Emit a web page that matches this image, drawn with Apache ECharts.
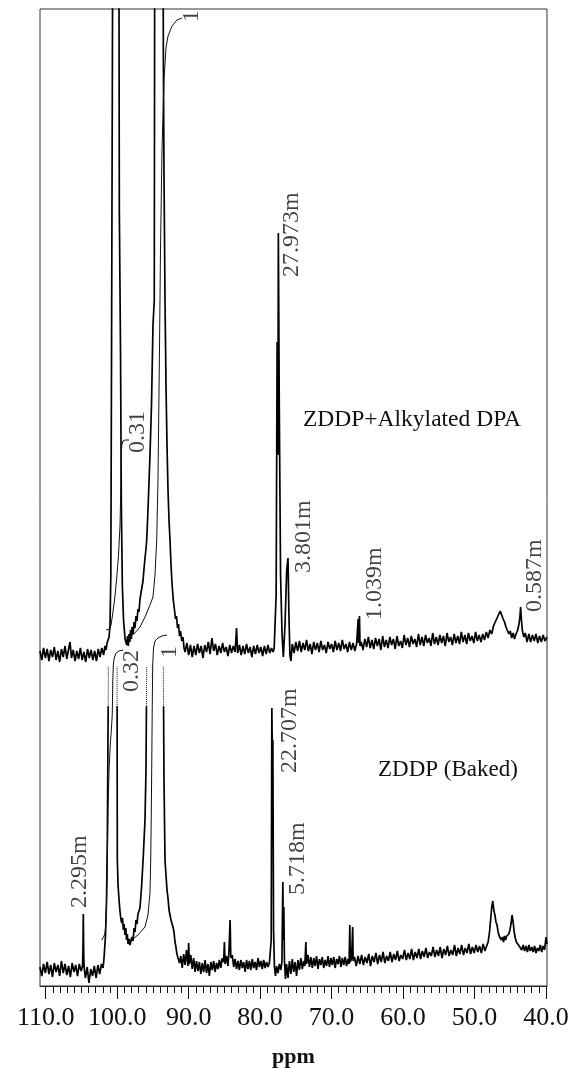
<!DOCTYPE html>
<html>
<head>
<meta charset="utf-8">
<script src="https://cdn.jsdelivr.net/npm/echarts@6/dist/echarts.min.js"></script>
<style>
html,body{margin:0;padding:0;background:#fff;}
#chart{width:574px;height:1068px;}
</style>
</head>
<body>
<div id="chart"></div>
<script>
// ---------- DATA (ppm, intensity in arbitrary units, 0 = each trace's own baseline) ----------
const ppmMin = 39.86;
const ppmMax = 110.8;
const majorTicks = [40, 50, 60, 70, 80, 90, 100, 110];
const minorTicks = [41,42,43,44,45,46,47,48,49,51,52,53,54,55,56,57,58,59,61,62,63,64,65,66,67,68,69,71,72,73,74,75,76,77,78,79,81,82,83,84,85,86,87,88,89,91,92,93,94,95,96,97,98,99,101,102,103,104,105,106,107,108,109];

// Upper trace: ZDDP+Alkylated DPA
const topSpectrum = [
[110.80,4],[110.55,-5],[110.30,7],[110.05,-3],[109.80,6],[109.55,-6],[109.30,5],[109.05,-2],[108.80,8],[108.55,-5],[108.30,4],[108.05,-7],[107.80,6],[107.55,-2],[107.30,9],[107.05,-4],[106.80,6],[106.60,13],[106.40,-3],[106.15,5],[105.90,-6],[105.65,4],[105.40,-4],[105.15,7],[104.90,-5],[104.65,3],[104.40,-7],[104.15,6],[103.90,-3],[103.65,5],[103.40,-5],[103.15,4],[102.90,-6],[102.65,6],[102.40,-2],[102.15,7],[101.90,0],[101.70,9],
[101.56,5],[101.42,12],[101.28,11],[101.14,18],[101.00,30],[100.89,80],[100.79,300],[100.68,567],[100.54,950],[100.16,950],[99.81,950],[99.70,445],[99.53,300],[99.42,150],[99.28,70],[99.11,35],[98.90,16],[98.67,10],
[98.55,19],[98.44,9],[98.34,21],[98.23,13],[98.13,25],[98.02,16],[97.92,28],[97.78,21],[97.64,33],[97.51,27],[97.37,39],[97.23,34],[97.09,46],[96.95,43],[96.81,56],[96.67,56],[96.53,68],[96.39,74],[96.25,86],[96.11,97],[95.97,106],[95.87,115],[95.69,145],[95.41,200],[95.20,250],[94.99,330],[94.81,355],[94.71,950],
[93.66,950],[93.54,600],[93.45,480],[93.31,355],[93.17,270],[93.03,210],[92.89,165],[92.75,135],[92.61,115],[92.47,90],[92.33,72],[92.15,55],[91.98,45],[91.84,36],[91.70,39],[91.56,27],[91.42,31],[91.28,19],[91.14,24],[90.97,14],[90.79,18],[90.65,7],
[90.50,3],[90.25,12],[90.00,0],[89.75,10],[89.50,-2],[89.25,9],[89.00,0],[88.75,11],[88.50,2],[88.25,9],[88.00,-3],[87.75,10],[87.50,3],[87.25,13],[87.00,1],[86.75,17],[86.50,4],[86.25,11],[86.00,0],[85.75,9],[85.50,2],[85.25,12],[85.00,3],[84.75,8],[84.50,-1],[84.25,10],[84.00,2],[83.75,9],[83.50,3],[83.30,27],[83.15,2],[82.90,10],[82.65,0],[82.40,9],[82.15,1],[81.90,11],[81.65,2],[81.40,8],[81.15,-2],[80.90,9],[80.65,1],[80.40,10],[80.15,2],[79.90,8],[79.65,-1],[79.40,9],[79.15,1],[78.90,10],[78.65,2],[78.40,7],[78.20,3],
[78.04,6],[77.76,60],[77.62,313],[77.51,200],[77.45,422],[77.32,250],[77.14,80],[76.93,20],[76.75,-2],[76.52,30],[76.28,85],[76.10,97],[75.97,40],[75.83,0],[75.69,-6],
[75.50,11],[75.25,2],[75.00,13],[74.75,4],[74.50,14],[74.25,3],[74.00,12],[73.75,5],[73.50,15],[73.25,4],[73.00,11],[72.75,1],[72.50,13],[72.25,5],[72.00,12],[71.75,3],[71.50,14],[71.25,5],[71.00,10],[70.75,2],[70.50,13],[70.25,6],[70.00,11],[69.75,3],[69.50,14],[69.25,5],[69.00,12],[68.75,4],[68.50,15],[68.25,6],[68.00,11],[67.75,3],[67.50,13],[67.25,5],[67.00,12],[66.75,4],[66.50,11],
[66.35,9],[66.28,36],[66.22,12],[66.10,39],[66.02,9],[65.85,13],
[65.60,5],[65.35,16],[65.10,8],[64.85,18],[64.60,7],[64.35,15],[64.10,6],[63.85,17],[63.60,9],[63.35,16],[63.10,5],[62.85,19],[62.60,8],[62.35,15],[62.10,7],[61.85,18],[61.60,10],[61.35,16],[61.10,6],[60.85,19],[60.60,9],[60.35,14],[60.10,7],[59.85,20],[59.60,10],[59.35,17],[59.10,8],[58.85,19],[58.60,11],[58.35,16],[58.10,8],[57.85,21],[57.60,10],[57.35,18],[57.10,9],[56.85,20],[56.60,12],[56.35,17],[56.10,9],[55.85,22],[55.60,11],[55.35,18],[55.10,10],[54.85,20],[54.60,12],[54.35,19],[54.10,9],[53.85,22],[53.60,13],[53.35,18],[53.10,10],[52.85,21],[52.60,12],[52.35,19],[52.10,11],[51.85,23],[51.60,13],[51.35,20],[51.10,11],[50.85,22],[50.60,14],[50.35,19],[50.10,12],[49.85,23],[49.60,14],[49.35,20],[49.10,13],[48.85,21],[48.60,15],[48.35,23],[48.10,17],
[47.85,25],[47.60,21],[47.35,29],[47.10,30],[46.85,37],[46.60,39],[46.40,44],[46.20,42],[46.00,36],[45.80,33],[45.60,28],[45.40,27],[45.20,21],[45.00,24],[44.80,17],[44.60,22],[44.40,16],[44.20,21],[44.00,24],[43.80,30],[43.65,38],[43.55,48],[43.45,36],[43.30,24],[43.10,18],[42.90,22],[42.65,13],[42.40,21],[42.15,13],[41.90,20],[41.65,14],[41.40,21],[41.15,12],[40.90,19],[40.65,13],[40.40,20],[40.15,14],[39.86,18]
];

// Upper trace integral curves
const topIntegralA = [[101.56,25],[101.07,26],[100.86,30],[100.65,40],[100.37,55],[100.09,75],[99.81,100],[99.60,130],[99.49,170],[99.44,200],[99.35,210],[99.18,214],[98.90,215],[98.34,215]];
const topIntegralB = [[98.48,18],[97.65,21],[96.81,28],[96.11,38],[95.41,50],[94.99,58],[94.71,80],[94.47,115],[94.29,175],[94.08,305],[93.94,405],[93.73,505],[93.45,575],[93.17,607],[92.89,619],[92.33,629],[91.63,635],[90.93,637]];

// Lower trace: ZDDP (Baked)
const bottomSpectrum = [
[110.80,3],[110.55,-6],[110.30,6],[110.05,-3],[109.80,8],[109.55,-4],[109.30,5],[109.05,-7],[108.80,7],[108.55,-2],[108.30,5],[108.05,-6],[107.80,9],[107.55,-3],[107.30,6],[107.05,-5],[106.80,4],[106.55,-7],[106.30,7],[106.05,-2],[105.80,5],[105.55,-6],[105.30,6],[105.05,-1],[104.85,4],
[104.79,20],[104.74,56],[104.68,14],[104.62,2],
[104.45,-8],[104.20,3],[103.95,-13],[103.70,1],[103.45,-6],[103.20,4],[102.95,-8],[102.70,5],[102.45,-4],[102.20,6],[101.98,2],
[101.84,12],[101.77,20],[101.63,35],[101.49,70],[101.38,130],[101.28,240],[101.21,330],[101.14,450],[100.09,450],[100.02,300],[99.98,110],[99.88,85],[99.74,70],[99.60,58],[99.46,50],[99.37,47],
[99.26,52],[99.14,40],[99.04,46],[98.90,35],[98.79,42],[98.69,30],[98.58,36],[98.48,26],[98.34,31],[98.20,25],[98.06,30],
[97.92,33],[97.78,29],[97.64,42],[97.50,38],[97.37,50],[97.23,46],[97.09,56],[96.95,55],[96.81,62],[96.57,85],[96.34,115],[96.11,150],[95.97,200],[95.87,300],[95.80,450],
[93.62,450],[93.54,300],[93.45,190],[93.31,110],[93.17,95],[93.03,80],[92.89,72],[92.75,60],[92.61,58],[92.47,50],[92.33,49],[92.19,43],[92.05,38],[91.91,28],[91.80,24],[91.67,17],[91.49,12],[91.28,7],
[91.10,14],[90.90,2],[90.70,16],[90.50,5],[90.30,20],[90.10,4],[90.00,27],[89.90,6],[89.70,15],[89.50,1],[89.30,12],[89.10,-2],[88.90,9],[88.70,-1],[88.50,8],[88.30,-4],[88.10,7],[87.90,-2],[87.70,10],[87.50,-3],[87.30,6],[87.10,-6],[86.90,8],[86.70,0],[86.50,9],[86.30,-2],[86.10,7],[85.90,1],[85.70,10],[85.50,2],[85.30,12],[85.10,8],[85.00,28],[84.90,6],[84.70,14],[84.50,4],[84.35,20],[84.20,50],[84.10,12],[83.90,15],[83.70,3],[83.50,11],[83.30,1],[83.10,9],[82.90,0],[82.70,10],[82.50,2],[82.30,8],[82.10,-2],[81.90,10],[81.70,1],[81.50,9],[81.30,0],[81.10,11],[80.90,2],[80.70,8],[80.50,0],[80.30,12],[80.10,3],[79.90,9],[79.70,1],[79.50,10],[79.30,2],[79.10,8],[78.90,3],[78.70,7],[78.55,6],
[78.45,30],[78.36,262],[78.27,200],[78.22,230],[78.12,40],[78.00,3],[77.85,-6],[77.70,4],[77.50,-3],[77.30,6],[77.10,0],
[76.95,8],[76.88,50],[76.82,88],[76.75,30],[76.68,63],[76.60,10],[76.45,-9],
[76.30,6],[76.10,-8],[75.90,9],[75.70,-4],[75.50,11],[75.30,-2],[75.10,8],[74.90,-6],[74.70,10],[74.50,0],[74.30,12],[74.10,1],[73.90,9],[73.75,4],[73.60,28],[73.50,6],[73.30,15],[73.10,3],[72.90,13],[72.70,2],[72.50,12],[72.30,4],[72.10,14],[71.90,1],[71.70,11],[71.50,5],[71.30,13],[71.10,2],[70.90,10],[70.70,4],[70.50,14],[70.30,3],[70.10,12],[69.90,5],[69.70,13],[69.50,2],[69.30,11],[69.10,6],[68.90,14],[68.70,3],[68.50,12],[68.30,5],[68.10,13],[67.90,4],[67.70,11],[67.55,6],
[67.45,45],[67.38,8],[67.20,12],[67.05,43],[66.98,9],
[66.80,13],[66.55,4],[66.30,14],[66.05,6],[65.80,15],[65.55,5],[65.30,13],[65.05,7],[64.80,16],[64.55,4],[64.30,14],[64.05,8],[63.80,17],[63.55,6],[63.30,15],[63.05,8],[62.80,18],[62.55,7],[62.30,14],[62.05,9],[61.80,18],[61.55,8],[61.30,16],[61.05,10],[60.80,19],[60.55,9],[60.30,15],[60.05,11],[59.80,20],[59.55,10],[59.30,17],[59.05,11],[58.80,21],[58.55,10],[58.30,18],[58.05,12],[57.80,21],[57.55,11],[57.30,19],[57.05,13],[56.80,22],[56.55,12],[56.30,18],[56.05,14],[55.80,23],[55.55,13],[55.30,20],[55.05,14],[54.80,23],[54.55,12],[54.30,21],[54.05,15],[53.80,24],[53.55,14],[53.30,20],[53.05,15],[52.80,25],[52.55,14],[52.30,22],[52.05,16],[51.80,25],[51.55,15],[51.30,22],[51.05,17],[50.80,26],[50.55,16],[50.30,23],[50.05,17],[49.80,25],[49.55,18],[49.30,24],[49.05,17],[48.80,26],[48.55,19],[48.30,24],
[48.10,28],[47.90,38],[47.75,50],[47.60,62],[47.45,69],[47.30,60],[47.15,55],[47.00,48],[46.85,45],[46.70,38],[46.55,34],[46.40,36],[46.25,30],[46.10,33],[45.95,28],[45.80,34],[45.65,30],[45.50,34],[45.35,33],[45.20,36],[45.05,40],[44.90,46],[44.75,55],[44.60,48],[44.45,38],[44.30,32],[44.15,28],[44.00,30],[43.85,25],[43.60,26],[43.40,20],[43.20,25],[43.00,19],[42.80,24],[42.60,18],[42.40,25],[42.20,19],[42.00,23],[41.80,18],[41.60,24],[41.40,17],[41.20,22],[41.00,19],[40.80,25],[40.60,18],[40.40,24],[40.20,20],[40.00,33],[39.86,26]
];

// Lower trace integral curves
const bottomIntegralA = [[102.16,30],[101.91,33],[101.73,36],[101.59,45],[101.48,70],[101.38,110],[101.28,160],[101.14,200],[100.97,225],[100.82,240],[100.69,255],[100.61,290],[100.54,305],[100.41,312],[100.16,317],[99.74,319],[99.18,320]];
const bottomIntegralB = [[97.97,30],[97.09,35],[96.11,43],[95.69,55],[95.41,77],[95.31,110],[95.24,150],[95.17,200],[95.10,260],[95.03,305],[94.92,322],[94.71,329],[94.29,332],[93.73,334],[93.03,335]];

// Peak / integral annotations: [text, ppm, intensity at the text's lower end]
const topLabels = [["27.973m",75.54,378],["3.801m",73.85,82],["1.039m",63.92,35],["0.587m",41.54,43],["0.31",97.11,202],["1",89.53,633]];
const bottomLabels = [["22.707m",75.82,197],["5.718m",74.70,75],["2.295m",105.30,62],["0.32",97.97,278],["1",92.61,312]];

const traceNames = ["ZDDP+Alkylated DPA", "ZDDP (Baked)"];

// ---------- CHART ----------
const SERIF = '"Liberation Serif", "Times New Roman", serif';
const chart = echarts.init(document.getElementById('chart'), null, {renderer: 'canvas'});
const L = 40, R = 27;
function hiddenX(gi) {
  return {gridIndex: gi, type: 'value', inverse: true, min: ppmMin, max: ppmMax, show: false, axisLine: {onZero: false}};
}
const lineBase = {type: 'line', showSymbol: false, symbol: 'none', clip: true, silent: true, animation: false};
const labelSeries = (xi, yi, arr) => ({
  type: 'scatter', xAxisIndex: xi, yAxisIndex: yi, symbolSize: 0, silent: true, animation: false,
  data: arr.map(d => ({name: d[0], value: [d[1], d[2]]})),
  label: {show: true, formatter: '{b}', rotate: 90, position: [0, 0], align: 'left', verticalAlign: 'middle',
          fontFamily: SERIF, fontSize: 24, color: '#111'}
});
const gridBase = {left: L, right: R, containLabel: false, outerBoundsMode: 'none'};

const option = {
  backgroundColor: '#fff',
  animation: false,
  grid: [
    Object.assign({}, gridBase, {top: 9, bottom: 82, show: true, borderColor: '#333', borderWidth: 1, backgroundColor: 'transparent'}),
    Object.assign({}, gridBase, {top: 707, bottom: 82}),
    Object.assign({}, gridBase, {top: 667, height: 40}),
    Object.assign({}, gridBase, {top: 9, bottom: 82})
  ],
  xAxis: [
    {gridIndex: 0, type: 'value', inverse: true, min: ppmMin, max: ppmMax, position: 'bottom',
     axisLine: {show: true, onZero: false, lineStyle: {color: '#222', width: 1}},
     axisTick: {show: true, customValues: majorTicks, length: 13, lineStyle: {color: '#111', width: 1}},
     axisLabel: {show: true, customValues: majorTicks, formatter: v => v.toFixed(1), margin: 19,
                 fontFamily: SERIF, fontSize: 26, color: '#111'},
     splitLine: {show: false},
     name: 'ppm', nameLocation: 'middle', nameGap: 60,
     nameTextStyle: {fontFamily: SERIF, fontSize: 22, fontWeight: 'bold', color: '#111'}},
    {gridIndex: 0, type: 'value', inverse: true, min: ppmMin, max: ppmMax, position: 'bottom',
     axisLine: {show: false, onZero: false}, axisLabel: {show: false}, splitLine: {show: false},
     axisTick: {show: true, customValues: minorTicks, length: 7, lineStyle: {color: '#111', width: 1}}},
    hiddenX(1), hiddenX(2), hiddenX(3)
  ],
  yAxis: [
    {gridIndex: 0, type: 'value', min: -331, max: 646, show: false},
    {gridIndex: 1, type: 'value', min: -16, max: 263, show: false},
    {gridIndex: 2, type: 'value', min: 263, max: 303, show: false},
    {gridIndex: 3, type: 'value', min: -16, max: 961, show: false}
  ],
  series: [
    Object.assign({}, lineBase, {name: traceNames[0], xAxisIndex: 0, yAxisIndex: 0, data: topSpectrum, lineStyle: {color: '#000', width: 1.7}}),
    Object.assign({}, lineBase, {xAxisIndex: 0, yAxisIndex: 0, data: topIntegralA, lineStyle: {color: '#111', width: 1}}),
    Object.assign({}, lineBase, {xAxisIndex: 0, yAxisIndex: 0, data: topIntegralB, lineStyle: {color: '#111', width: 1}}),
    Object.assign({}, lineBase, {name: traceNames[1], xAxisIndex: 2, yAxisIndex: 1, data: bottomSpectrum, lineStyle: {color: '#000', width: 1.7}}),
    Object.assign({}, lineBase, {xAxisIndex: 3, yAxisIndex: 2, data: bottomSpectrum, lineStyle: {color: '#111', width: 1, type: 'dotted'}}),
    Object.assign({}, lineBase, {xAxisIndex: 4, yAxisIndex: 3, data: bottomIntegralA, lineStyle: {color: '#111', width: 1}}),
    Object.assign({}, lineBase, {xAxisIndex: 4, yAxisIndex: 3, data: bottomIntegralB, lineStyle: {color: '#111', width: 1}}),
    labelSeries(0, 0, topLabels),
    labelSeries(4, 3, bottomLabels)
  ],
  graphic: [
    {type: 'text', left: 303, top: 408, silent: true,
     style: {text: traceNames[0], font: '23.5px ' + SERIF, fill: '#111'}},
    {type: 'text', left: 378, top: 758, silent: true,
     style: {text: traceNames[1], font: '23px ' + SERIF, fill: '#111'}}
  ]
};
chart.setOption(option);
</script>
</body>
</html>
